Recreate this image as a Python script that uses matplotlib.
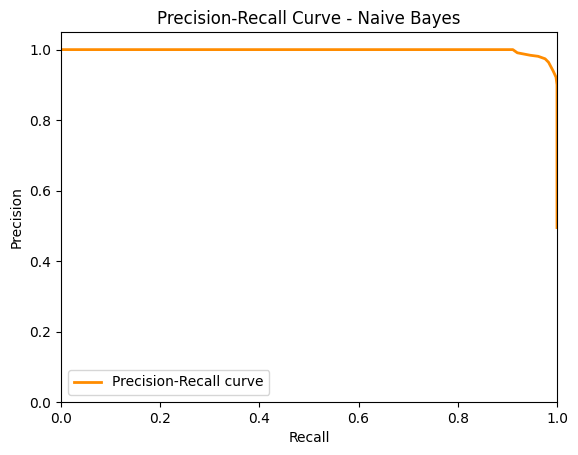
import matplotlib
matplotlib.use("Agg")
import matplotlib.pyplot as plt

recall = [0.0, 0.10, 0.30, 0.50, 0.70, 0.85, 0.911, 0.92, 0.946, 0.962, 0.976, 0.983, 0.992, 0.998, 1.0, 1.0]
precision = [1.0, 1.0, 1.0, 1.0, 1.0, 1.0, 1.0, 0.991, 0.984, 0.981, 0.974, 0.964, 0.940, 0.922, 0.90, 0.495]

fig = plt.figure(figsize=(5.78, 4.55), dpi=100)
ax = fig.add_axes([61/578, 1 - 402/455, 496/578, 370/455])
ax.plot(recall, precision, color="darkorange", lw=2, label="Precision-Recall curve")
ax.set_xlim(0.0, 1.0)
ax.set_ylim(0.0, 1.05)
ax.set_xlabel("Recall")
ax.set_ylabel("Precision")
ax.set_title("Precision-Recall Curve - Naive Bayes")
ax.legend(loc="lower left")
fig.savefig("out.png", dpi=100)
